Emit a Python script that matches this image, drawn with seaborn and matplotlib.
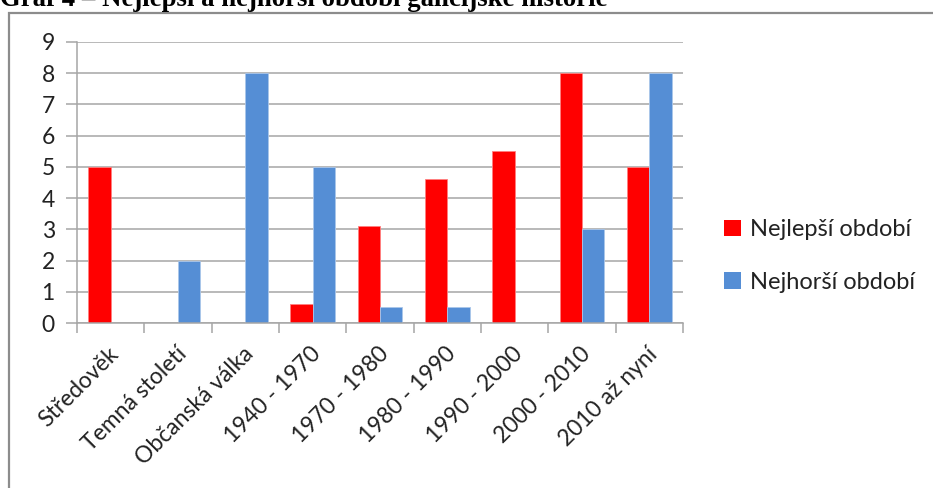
import matplotlib
matplotlib.use("Agg")
import matplotlib.pyplot as plt
from matplotlib.patches import Rectangle, Patch
from matplotlib.ticker import FixedLocator
from matplotlib.transforms import ScaledTranslation
import pandas as pd
import seaborn as sns

periods = ["Středověk", "Temná století", "Občanská válka", "1940 - 1970",
           "1970 - 1980", "1980 - 1990", "1990 - 2000", "2000 - 2010", "2010 až nyní"]
best = [5, 0, 0, 0.6, 3.1, 4.6, 5.5, 8, 5]
worst = [0, 2, 8, 5, 0.5, 0.5, 0, 3, 8]
series_names = ["Nejlepší období", "Nejhorší období"]
y_ticks = list(range(0, 10))
title = "Graf 4 – Nejlepší a nejhorší období galicijské historie"

colors = ["#FF0000", "#558ED5"]

df = pd.DataFrame({
    "období": periods * 2,
    "hodnota": best + worst,
    "řada": [series_names[0]] * len(periods) + [series_names[1]] * len(periods),
})

sns.set_theme(style="white")
plt.rcParams["font.family"] = ["Lato", "DejaVu Sans"]

W, H = 933, 488
fig = plt.figure(figsize=(W / 100, H / 100), dpi=100)

def fx(px):
    return px / W

def fy(py):
    return 1 - py / H

ax = fig.add_axes([fx(77), fy(323), fx(683) - fx(77), fy(42) - fy(323)])

sns.barplot(data=df, x="období", y="hodnota", hue="řada", order=periods,
            hue_order=series_names, palette=colors, width=0.66,
            saturation=1, legend=False, ax=ax, linewidth=0.6,
            edgecolor="white")
for p, c in zip(ax.patches, [colors[0]] * 9 + [colors[1]] * 9):
    p.set_edgecolor(matplotlib.colors.to_hex(
        [min(1, v * 0.5 + 0.5) for v in matplotlib.colors.to_rgb(c)]))

ax.set_xlim(-0.5, len(periods) - 0.5)
ax.set_ylim(0, 9)
ax.set_yticks(y_ticks)
ax.set_xlabel("")
ax.set_ylabel("")

grid_color = "#A6A6A6"
text_color = "#222222"
ax.yaxis.grid(True, color=grid_color, linewidth=1.1)
ax.set_axisbelow(True)
for side in ["top", "right"]:
    ax.spines[side].set_visible(False)
for side in ["left", "bottom"]:
    ax.spines[side].set_color(grid_color)
    ax.spines[side].set_linewidth(1.1)

ax.tick_params(axis="y", which="major", length=8, width=1.1, color=grid_color,
               pad=8, labelsize=16.5, labelcolor=text_color, left=True)
ax.tick_params(axis="x", which="major", length=0, labelsize=16.5,
               labelcolor=text_color, pad=20)
ax.xaxis.set_minor_locator(FixedLocator([i - 0.5 for i in range(len(periods) + 1)]))
ax.tick_params(axis="x", which="minor", length=7, width=1.1, color=grid_color,
               bottom=True)
shift = ScaledTranslation(5 / 100, 0, fig.dpi_scale_trans)
for lbl in ax.get_xticklabels():
    lbl.set_rotation(45)
    lbl.set_ha("right")
    lbl.set_va("center")
    lbl.set_rotation_mode("anchor")
    lbl.set_transform(lbl.get_transform() + shift)

handles = [Patch(facecolor=c, edgecolor="none") for c in colors]
fig.legend(handles, series_names, loc="center left",
           bbox_to_anchor=(fx(703), fy(256)), frameon=False, fontsize=17,
           handlelength=0.7, handleheight=0.7, handletextpad=0.4,
           labelspacing=1.35, labelcolor=text_color)

# chart frame
fig.patches.append(Rectangle((fx(8.5), fy(600)), 2, fy(12.5) - fy(600),
                             transform=fig.transFigure, fill=False,
                             edgecolor="#8C8C8C", linewidth=1.6))

fig.text(fx(0), fy(6), title, family="Liberation Serif", weight="bold",
         fontsize=19.3, va="baseline", ha="left", color="black")

fig.savefig("out.png", dpi=100)
